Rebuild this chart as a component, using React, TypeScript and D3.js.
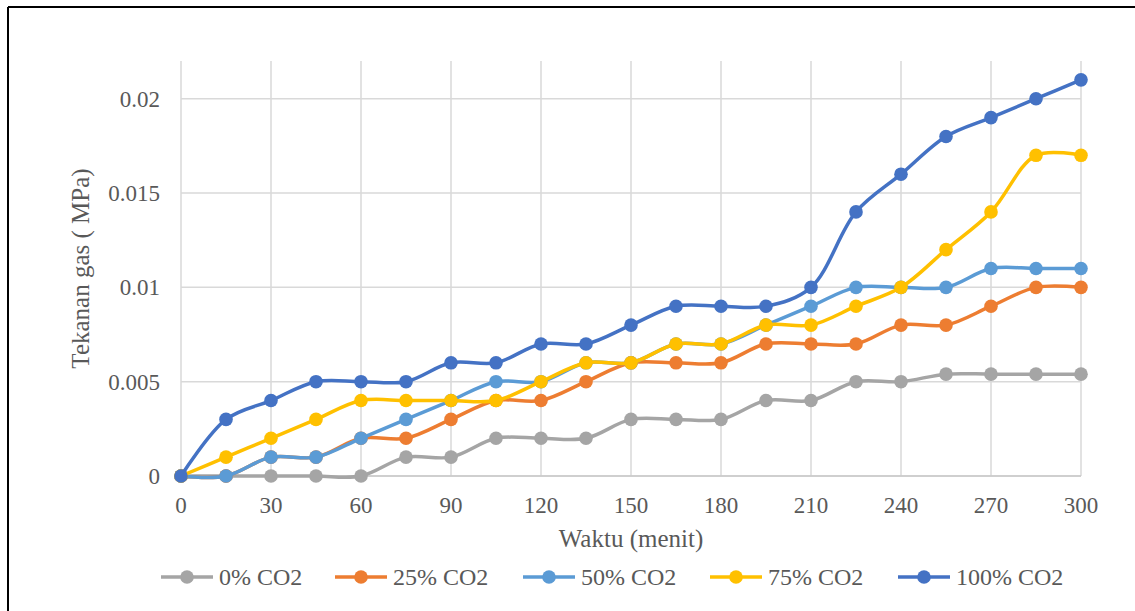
import React from "react";
import * as d3 from "d3";

// Time in minutes
const minutes = [0, 15, 30, 45, 60, 75, 90, 105, 120, 135, 150, 165, 180, 195, 210, 225, 240, 255, 270, 285, 300];

// Gas pressure (MPa) per CO2 fraction
const co2_0 = [0, 0, 0, 0, 0, 0.001, 0.001, 0.002, 0.002, 0.002, 0.003, 0.003, 0.003, 0.004, 0.004, 0.005, 0.005, 0.0054, 0.0054, 0.0054, 0.0054];
const co2_25 = [0, 0, 0.001, 0.001, 0.002, 0.002, 0.003, 0.004, 0.004, 0.005, 0.006, 0.006, 0.006, 0.007, 0.007, 0.007, 0.008, 0.008, 0.009, 0.01, 0.01];
const co2_50 = [0, 0, 0.001, 0.001, 0.002, 0.003, 0.004, 0.005, 0.005, 0.006, 0.006, 0.007, 0.007, 0.008, 0.009, 0.01, 0.01, 0.01, 0.011, 0.011, 0.011];
const co2_75 = [0, 0.001, 0.002, 0.003, 0.004, 0.004, 0.004, 0.004, 0.005, 0.006, 0.006, 0.007, 0.007, 0.008, 0.008, 0.009, 0.01, 0.012, 0.014, 0.017, 0.017];
const co2_100 = [0, 0.003, 0.004, 0.005, 0.005, 0.005, 0.006, 0.006, 0.007, 0.007, 0.008, 0.009, 0.009, 0.009, 0.01, 0.014, 0.016, 0.018, 0.019, 0.02, 0.021];

const seriesNames = ["0% CO2", "25% CO2", "50% CO2", "75% CO2", "100% CO2"];
const seriesValues = [co2_0, co2_25, co2_50, co2_75, co2_100];
const seriesColors = ["#A5A5A5", "#ED7D31", "#5B9BD5", "#FFC000", "#4472C4"];

const xTicks = [0, 30, 60, 90, 120, 150, 180, 210, 240, 270, 300];
const yTicks = [0, 0.005, 0.01, 0.015, 0.02];
const yTickLabels = ["0", "0.005", "0.01", "0.015", "0.02"];

const W = 1135;
const H = 611;
const plot = { left: 181, right: 1081, top: 61, bottom: 476 };
const textColor = "#595959";
const font = "'Liberation Serif', 'Times New Roman', serif";

export default function App() {
  const x = d3.scaleLinear().domain([0, 300]).range([plot.left, plot.right]);
  const y = d3.scaleLinear().domain([0, 0.022]).range([plot.bottom, plot.top]);

  const line = d3
    .line<number>()
    .x((_, i) => x(minutes[i]))
    .y((d) => y(d))
    .curve(d3.curveCatmullRom.alpha(0.5));

  // legend item positions (line start x)
  const legendX = [161, 335, 523, 710, 898];
  const legendY = 577;

  return (
    <svg
      width={W}
      height={H}
      style={{ position: "absolute", left: 0, top: 0, background: "#fff" }}
      fontFamily={font}
    >
      <rect x={0} y={0} width={W} height={H} fill="#fff" />
      {/* chart frame */}
      <line x1={8} y1={7} x2={W} y2={7} stroke="#000" strokeWidth={2} />
      <line x1={8} y1={7} x2={8} y2={H} stroke="#000" strokeWidth={2} />

      {/* gridlines */}
      {yTicks.map((t) => (
        <line key={"gy" + t} x1={plot.left} x2={plot.right} y1={y(t)} y2={y(t)} stroke="#d9d9d9" strokeWidth={1.5} />
      ))}
      {xTicks.map((t) => (
        <line key={"gx" + t} x1={x(t)} x2={x(t)} y1={plot.top} y2={plot.bottom} stroke="#d9d9d9" strokeWidth={1.5} />
      ))}
      <line x1={plot.left} x2={plot.right} y1={plot.bottom} y2={plot.bottom} stroke="#c8c8c8" strokeWidth={1.5} />

      {/* tick labels */}
      {yTicks.map((t, i) => (
        <text key={"ty" + t} x={160} y={y(t) + 8} textAnchor="end" fontSize={23} fill={textColor}>
          {yTickLabels[i]}
        </text>
      ))}
      {xTicks.map((t) => (
        <text key={"tx" + t} x={x(t)} y={513} textAnchor="middle" fontSize={23} fill={textColor}>
          {t}
        </text>
      ))}

      {/* axis titles */}
      <text x={(plot.left + plot.right) / 2} y={547} textAnchor="middle" fontSize={25} fill={textColor}>
        Waktu (menit)
      </text>
      <text
        transform={`translate(89, ${(plot.top + plot.bottom) / 2}) rotate(-90)`}
        textAnchor="middle"
        fontSize={25}
        fill={textColor}
      >
        Tekanan gas ( MPa)
      </text>

      {/* series */}
      {seriesValues.map((vals, s) => (
        <g key={"s" + s}>
          <path d={line(vals) || ""} fill="none" stroke={seriesColors[s]} strokeWidth={3.5} strokeLinecap="round" />
          {vals.map((v, i) => (
            <circle key={i} cx={x(minutes[i])} cy={y(v)} r={6.8} fill={seriesColors[s]} />
          ))}
        </g>
      ))}

      {/* legend */}
      {seriesNames.map((name, s) => (
        <g key={"l" + s}>
          <line x1={legendX[s]} x2={legendX[s] + 52} y1={legendY} y2={legendY} stroke={seriesColors[s]} strokeWidth={3.5} />
          <circle cx={legendX[s] + 26} cy={legendY} r={6.8} fill={seriesColors[s]} />
          <text x={legendX[s] + 58} y={legendY + 8} fontSize={24} fill={textColor}>
            {name}
          </text>
        </g>
      ))}
    </svg>
  );
}
